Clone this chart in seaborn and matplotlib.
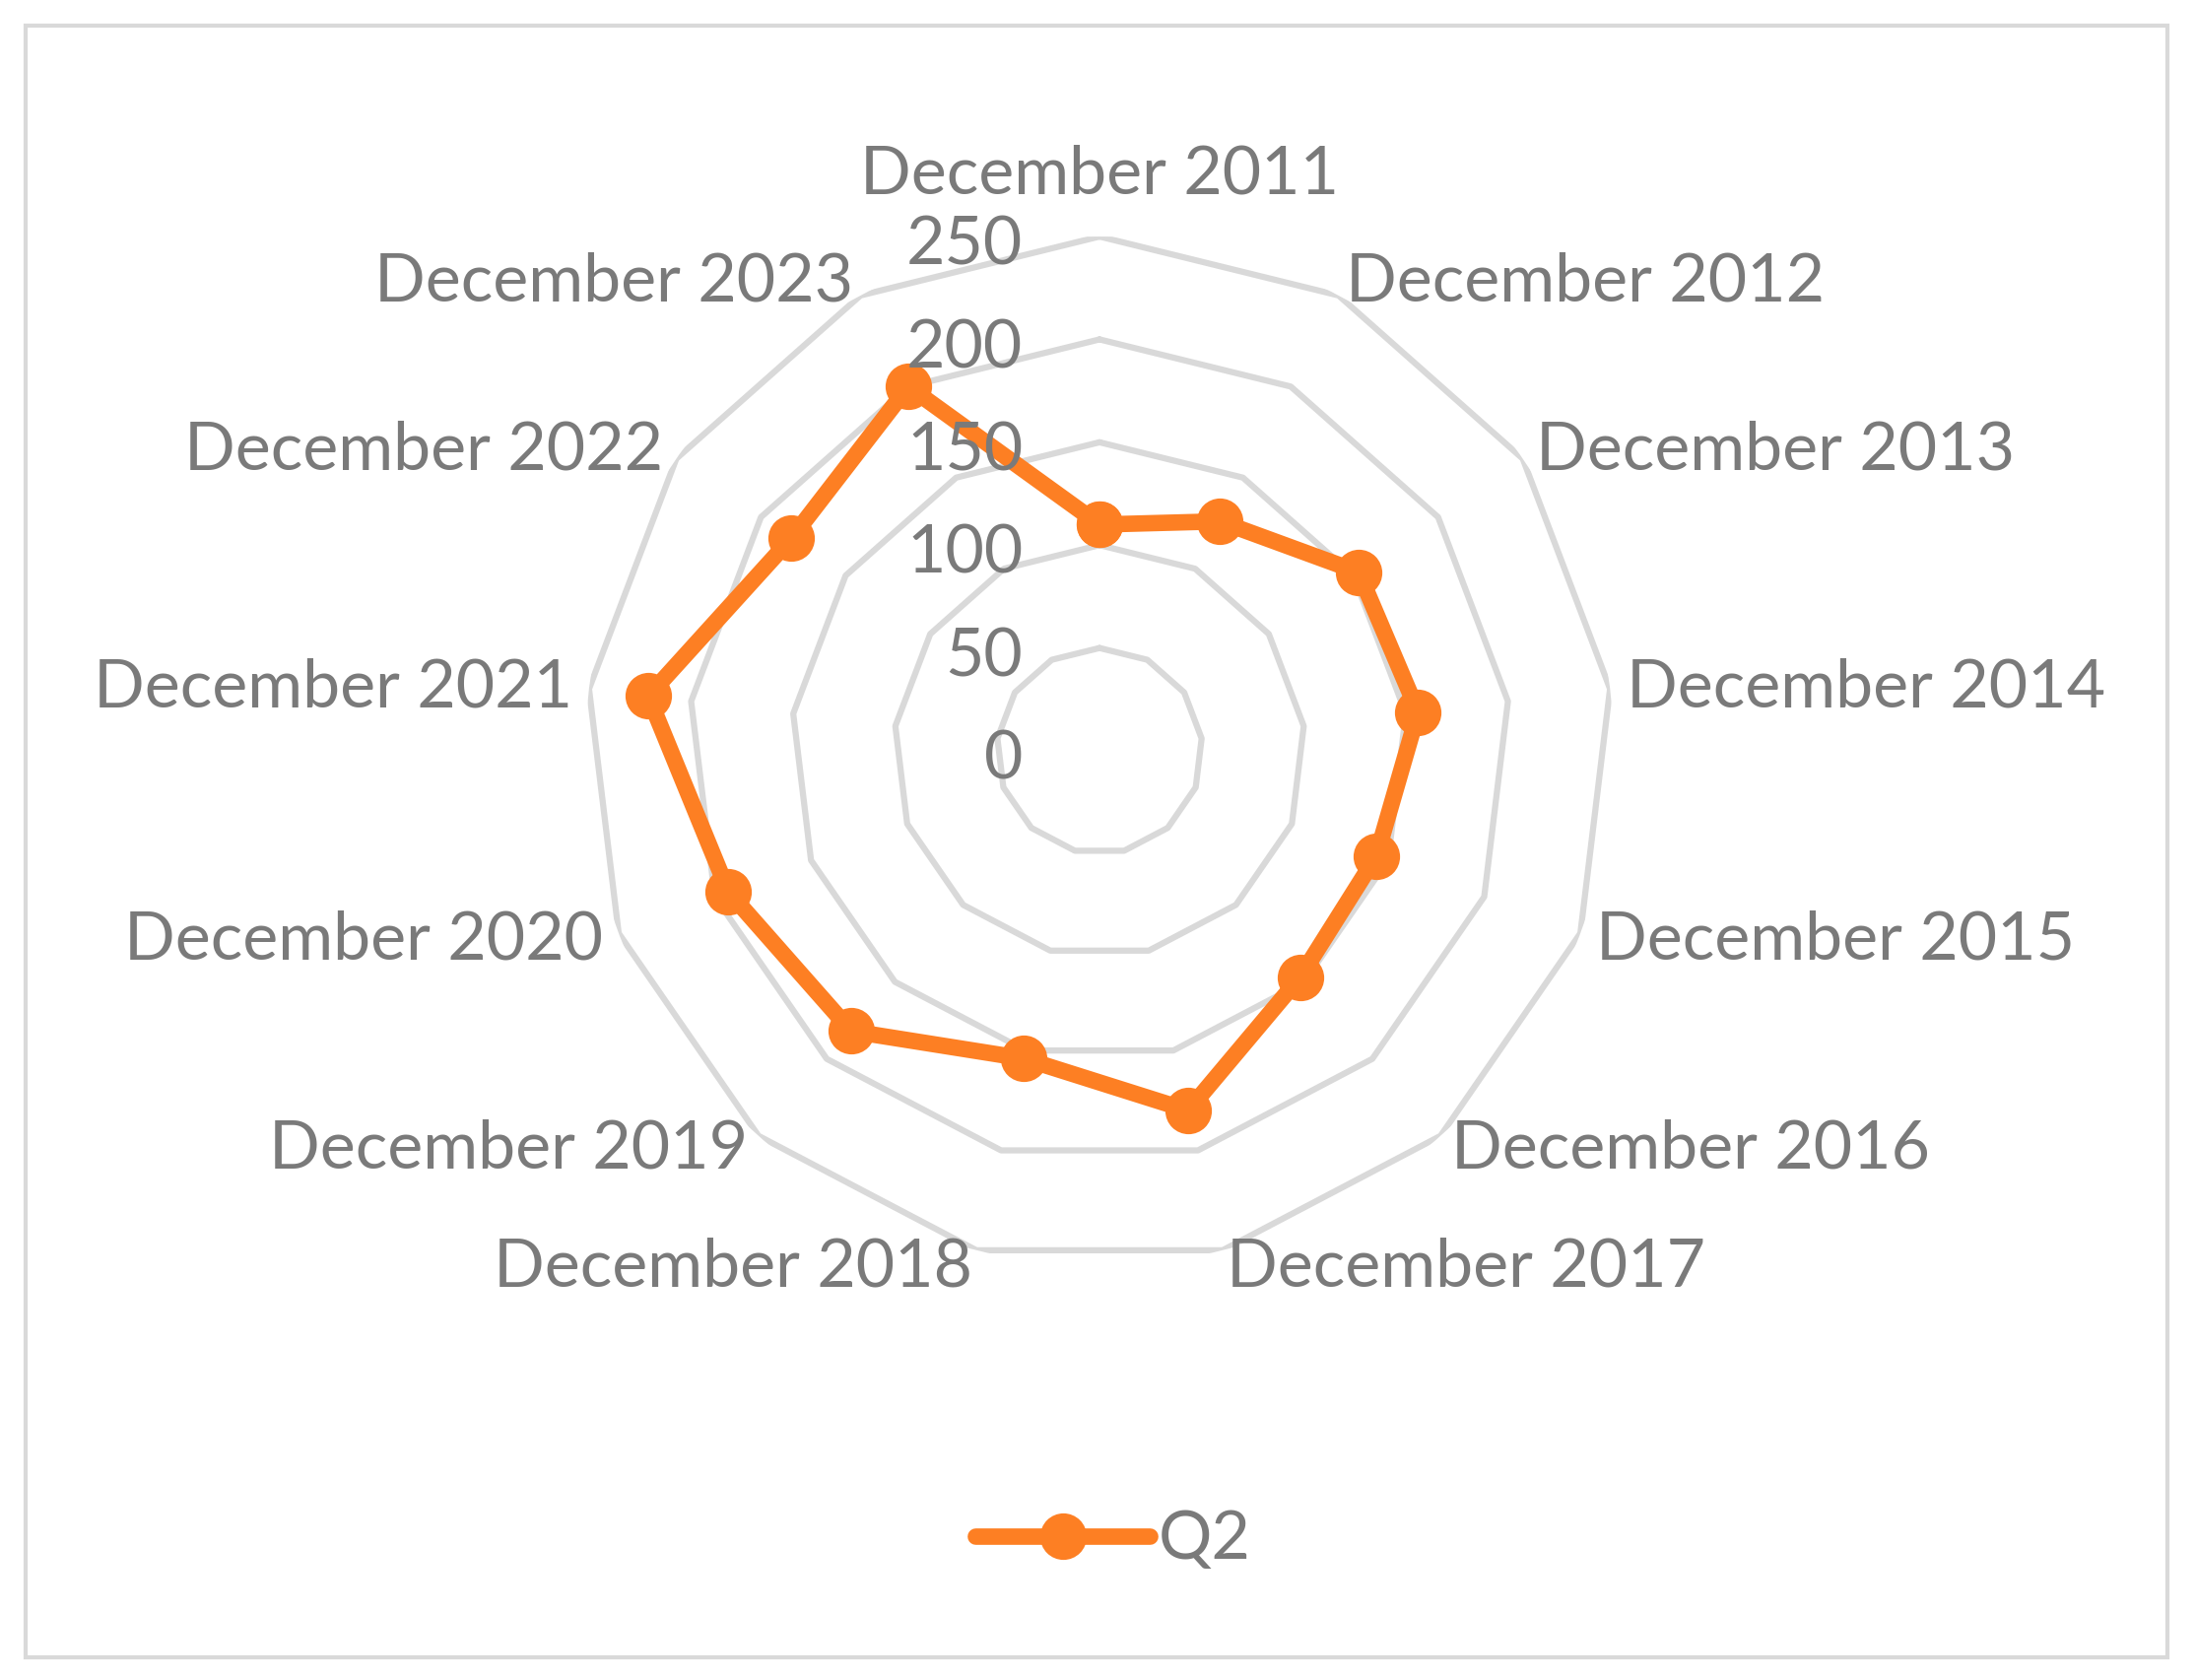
import numpy as np
import matplotlib
matplotlib.use("Agg")
import matplotlib.pyplot as plt
import seaborn as sns
from matplotlib.patches import Rectangle

CATEGORIES = [
    "December 2011", "December 2012", "December 2013", "December 2014",
    "December 2015", "December 2016", "December 2017", "December 2018",
    "December 2019", "December 2020", "December 2021", "December 2022",
    "December 2023",
]
Q2_VALUES = [110, 126, 153, 156, 144, 147, 180, 154, 182, 193, 221, 182, 200]
R_TICKS = [0, 50, 100, 150, 200, 250]
SERIES_NAME = "Q2"

ORANGE = "#fd7f23"
GRID = "#d9d9d9"
TEXT = "#7a7a7a"
FS = 49

sns.set_theme(style="white")
plt.rcParams["font.family"] = ["Lato", "DejaVu Sans"]

fig = plt.figure(figsize=(22.29, 17.05), dpi=100)
ax = fig.add_axes([0.2665, 0.2469, 0.4684, 0.6123], projection="polar")
ax.set_theta_zero_location("N")
ax.set_theta_direction(-1)

n = len(CATEGORIES)
theta = np.linspace(0, 2 * np.pi, n, endpoint=False)
theta_closed = np.append(theta, 2 * np.pi)

# polygon gridlines like the excel radar chart
for t in R_TICKS[1:]:
    ax.plot(theta_closed, [t] * (n + 1), color=GRID, lw=4.5, zorder=1)

sns.lineplot(x=theta_closed, y=np.append(Q2_VALUES, Q2_VALUES[0]), sort=False,
             estimator=None, ax=ax, color=ORANGE, lw=12, marker="o", markersize=34,
             markeredgewidth=0, label=SERIES_NAME, zorder=3,
             solid_capstyle="round", solid_joinstyle="round")

ax.set_ylim(0, R_TICKS[-1])
ax.grid(False)
ax.spines["polar"].set_visible(False)
ax.set_xticks([])
ax.set_yticks([])
ax.set_facecolor("none")
ax.get_legend().remove()

# category labels just outside the outer ring
for t, lab in zip(theta, CATEGORIES):
    s, c = np.sin(t), np.cos(t)
    if abs(s) < 1e-6:
        ax.annotate(lab, xy=(t, R_TICKS[-1]), xytext=(0, 23), textcoords="offset points",
                    ha="center", va="bottom", fontsize=FS, color=TEXT)
    else:
        ax.annotate(lab, xy=(t, R_TICKS[-1]), xytext=(12 * s, 12 * c - 1),
                    textcoords="offset points", ha="left" if s > 0 else "right",
                    va="center", fontsize=FS, color=TEXT)

# radial value labels left of the vertical axis
for t in R_TICKS:
    ax.annotate(str(t), xy=(0, t), xytext=(-56, -7), textcoords="offset points",
                ha="right", va="center", fontsize=FS, color=TEXT)

handles, labels = ax.get_legend_handles_labels()
fig.legend(handles, labels, loc="center", bbox_to_anchor=(0.507, 0.083), frameon=False,
           fontsize=FS, labelcolor=TEXT, handlelength=2.6, handletextpad=0.13,
           numpoints=1)

fig.patches.append(Rectangle((0.0115, 0.0135), 0.9755, 0.9715, transform=fig.transFigure,
                             fill=False, edgecolor=GRID, lw=3))

fig.savefig("out.png", dpi=100, facecolor="white")
